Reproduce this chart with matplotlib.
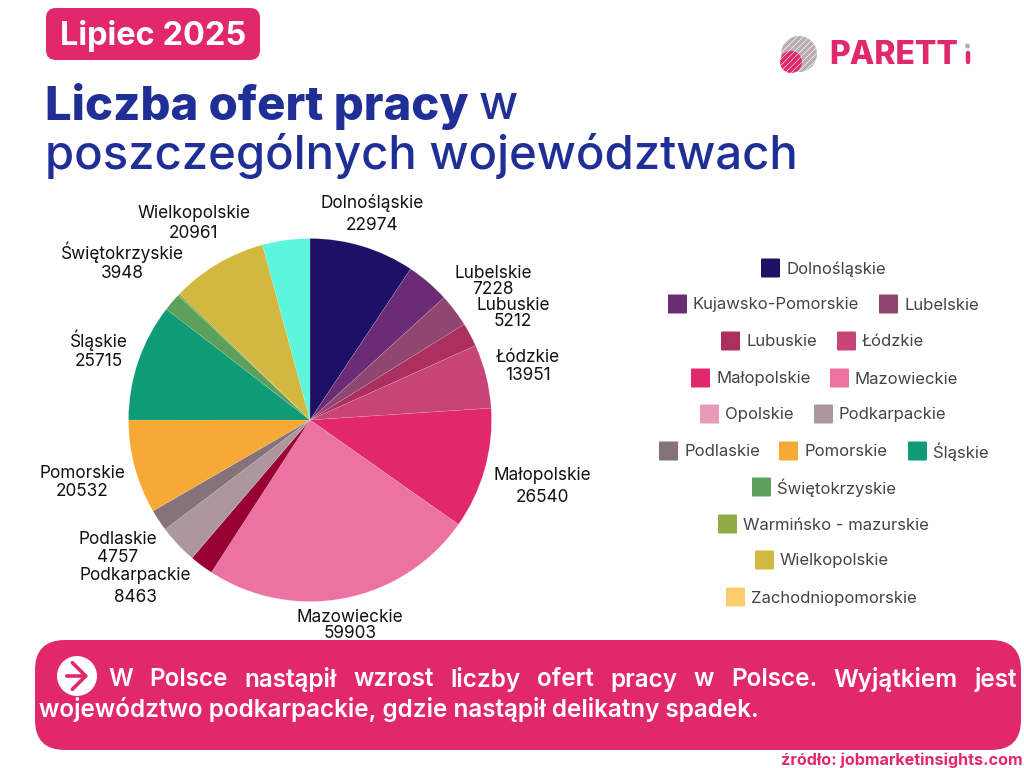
import numpy as np
import matplotlib
matplotlib.use('Agg')
import matplotlib.pyplot as plt
from matplotlib.patches import Circle, FancyBboxPatch, FancyArrowPatch

plt.rcParams['font.family'] = ['Inter', 'DejaVu Sans']

PINK = '#e2286c'
NAVY = '#1f2f96'

regions = ['Dolnośląskie', 'Kujawsko-Pomorskie', 'Lubelskie', 'Lubuskie', 'Łódzkie', 'Małopolskie',
           'Mazowieckie', 'Opolskie', 'Podkarpackie', 'Podlaskie', 'Pomorskie', 'Śląskie',
           'Świętokrzyskie', 'Warmińsko - mazurskie', 'Wielkopolskie', 'Zachodniopomorskie']
offers = [22974, 9500, 7228, 5212, 13951, 26540, 59903, 5200, 8463, 4757, 20532, 25715, 3948, 450, 20961, 10350]
pie_colors = ['#1e1064', '#6b2c75', '#8f4670', '#ab2f5f', '#c94476', '#e2286c', '#ec72a1', '#990033',
              '#ad979f', '#857379', '#f6a935', '#0f9b75', '#5ba15b', '#93ab45', '#d2b83f', '#5cf5de']
legend_colors = ['#1e1064', '#6b2c75', '#8f4670', '#ab2f5f', '#c94476', '#e2286c', '#ec72a1', '#e89bb8',
                 '#ad979f', '#857379', '#f6a935', '#0f9b75', '#5ba15b', '#93ab45', '#d2b83f', '#fccb6b']

# name, x, y of name, y of value (pixels)
pie_labels = [('Dolnośląskie', 372, 203, 225), ('Lubelskie', 493, 273, 289), ('Lubuskie', 513, 305, 322),
              ('Łódzkie', 528, 358, 376), ('Małopolskie', 542, 476, 497), ('Mazowieckie', 350, 617, 634),
              ('Podkarpackie', 135, 576, 597), ('Podlaskie', 118, 540, 558), ('Pomorskie', 82, 474, 492),
              ('Śląskie', 99, 340, 362), ('Świętokrzyskie', 122, 252, 273), ('Wielkopolskie', 194, 213, 234)]

legend_rows = [(268, [('Dolnośląskie', 761)]),
               (304, [('Kujawsko-Pomorskie', 668), ('Lubelskie', 879)]),
               (341, [('Lubuskie', 721), ('Łódzkie', 837)]),
               (378, [('Małopolskie', 691), ('Mazowieckie', 830)]),
               (414, [('Opolskie', 700), ('Podkarpackie', 814)]),
               (451, [('Podlaskie', 659), ('Pomorskie', 779), ('Śląskie', 908)]),
               (487, [('Świętokrzyskie', 752)]),
               (524, [('Warmińsko - mazurskie', 718)]),
               (560, [('Wielkopolskie', 755)]),
               (597, [('Zachodniopomorskie', 726)])]

fig = plt.figure(figsize=(10.24, 7.68), dpi=100)
bg = fig.add_axes([0, 0, 1, 1])
bg.set_xlim(0, 1024)
bg.set_ylim(768, 0)
bg.axis('off')

# pie, centre 310,420 radius 181
cx, cy, r = 310, 420, 181.5
pie_ax = fig.add_axes([(cx - r) / 1024, 1 - (cy + r) / 768, 2 * r / 1024, 2 * r / 768])
pie_ax.pie(offers, colors=pie_colors, startangle=90, counterclock=False, radius=1,
           wedgeprops={'linewidth': 0.3, 'edgecolor': '#ffffff44'})
pie_ax.set_xlim(-1, 1)
pie_ax.set_ylim(-1, 1)

for name, x, y1, y2 in pie_labels:
    bg.text(x, y1, name, ha='center', va='center', fontsize=12.4, color='#111111', zorder=5)
    bg.text(x, y2, str(offers[regions.index(name)]), ha='center', va='center', fontsize=12.4, color='#111111', zorder=5)

# legend
for y, items in legend_rows:
    for name, x in items:
        bg.add_patch(FancyBboxPatch((x + 1, y - 8.5), 17, 17, boxstyle='round,pad=1,rounding_size=1',
                                    fc=legend_colors[regions.index(name)], ec='none'))
        bg.text(x + 25, y + 1, name, ha='left', va='center', fontsize=12, color='#444444')

# badge and title
bg.add_patch(FancyBboxPatch((54, 16), 198, 36, boxstyle='round,pad=8,rounding_size=10', fc=PINK, ec='none'))
bg.text(153, 36, 'Lipiec 2025', ha='center', va='center', fontsize=23.4, fontweight='bold', color='white')
bg.text(45, 107, 'Liczba ofert pracy', ha='left', va='center', fontsize=34, fontweight='heavy', color=NAVY)
bg.text(479, 107, 'w', ha='left', va='center', fontsize=34, fontweight='medium', color=NAVY)
bg.text(45, 156, 'poszczególnych województwach', ha='left', va='center', fontsize=34, fontweight='medium', color=NAVY)

# logo
logo = Circle((799, 54), 18, transform=bg.transData)
pink_clip = Circle((791, 62), 11, transform=bg.transData)
for d in np.arange(-28, 29, 6):
    ln, = bg.plot([799 + d - 20, 799 + d + 20], [54 + 20, 54 - 20], color='#b9adb2', lw=2.6, solid_capstyle='butt')
    ln.set_clip_path(logo)
    ln, = bg.plot([799 + d - 20, 799 + d + 20], [54 + 20, 54 - 20], color=PINK, lw=2.6, solid_capstyle='butt')
    ln.set_clip_path(pink_clip)
bg.text(829, 55, 'PARETT', ha='left', va='center', fontsize=23, fontweight='heavy', color=PINK)
bg.plot([967.5, 967.5], [53, 62], color=PINK, lw=3.2, solid_capstyle='round')
bg.add_patch(Circle((967.5, 46), 2.5, fc='#b9adb2', ec='none'))

# note box
bg.add_patch(FancyBboxPatch((65, 670), 926, 50, boxstyle='round,pad=30,rounding_size=30', fc=PINK, ec='none'))
bg.add_patch(Circle((77, 676), 20, fc='white', ec='none'))
bg.add_patch(FancyArrowPatch((64, 676), (91, 676), arrowstyle='->,head_length=4,head_width=4', color=PINK, lw=2.6, mutation_scale=2.4))

# first line is justified, so spread the words out to the box width
words = 'W Polsce nastąpił wzrost liczby ofert pracy w Polsce. Wyjątkiem jest'.split()
fig.canvas.draw()
rend = fig.canvas.get_renderer()
items = [bg.text(0, 680, w, ha='left', va='center', fontsize=17.5, fontweight='semibold', color='white') for w in words]
widths = [t.get_window_extent(rend).width for t in items]
gap = (1017 - 108 - sum(widths)) / (len(words) - 1)
x = 108
for t, w in zip(items, widths):
    t.set_x(x)
    x += w + gap
bg.text(39, 710, 'województwo podkarpackie, gdzie nastąpił delikatny spadek.', ha='left', va='center',
        fontsize=17.5, fontweight='semibold', color='white')
bg.text(1023, 760, 'źródło: jobmarketinsights.com', ha='right', va='center', fontsize=11.6, fontweight='bold', color=PINK)

fig.savefig('out.png', dpi=100)
